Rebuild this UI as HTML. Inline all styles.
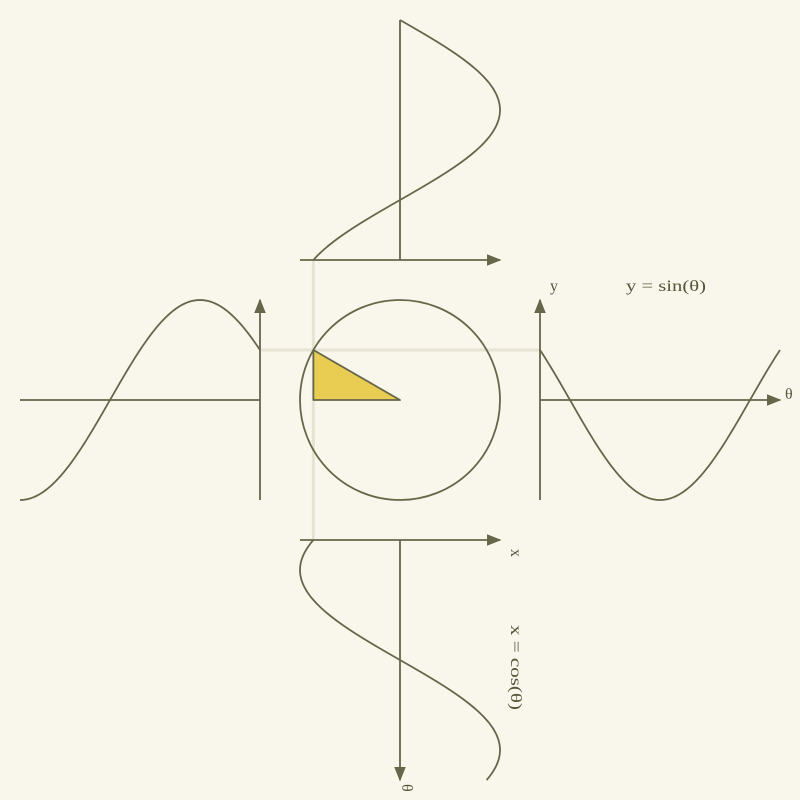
<!DOCTYPE html>
<html><head><meta charset="utf-8">
<style>
html,body{margin:0;padding:0;background:#f9f7ec;}
svg{display:block;}
text{font-family:"Liberation Serif",serif;font-size:16px;fill:#55553a;}
</style></head>
<body>
<svg id="chart" width="800" height="800" viewBox="0 0 800 800">
<defs><marker id="arr" viewBox="0 0 10 10" refX="9" refY="5" markerWidth="8" markerHeight="8" orient="auto"><path d="M0,1L10,5L0,9z" fill="#66664a"/></marker></defs>
<g id="guides"></g>
<g id="axes"></g>
<g id="marks"></g>
<text x="550" y="291">y</text>
<text x="626" y="291" textLength="80" lengthAdjust="spacingAndGlyphs">y = sin(θ)</text>
<text x="785" y="399">θ</text>
<text transform="translate(511,549) rotate(90)">x</text>
<text transform="translate(511,625) rotate(90)" textLength="85" lengthAdjust="spacingAndGlyphs">x = cos(θ)</text>
<text transform="translate(402,784) rotate(90)">θ</text>
</svg>
<script>
const thetaDeg = [150];           // current angle
const radiusUnits = [1];          // unit circle
const waveSpanDeg = [240];        // angular span of each wave
const NS="http://www.w3.org/2000/svg";
const cx=400, cy=400, R=100, pxPerDeg=1;
const stroke="#66664a";
const sw=1.8;
const th=thetaDeg[0], r=radiusUnits[0]*R, span=waveSpanDeg[0];
const rad=d=>d*Math.PI/180;
function mk(tag,attrs,parent){const e=document.createElementNS(NS,tag);for(const k in attrs)e.setAttribute(k,attrs[k]);document.getElementById(parent).appendChild(e);return e;}
const px=cx+r*Math.cos(rad(th)), py=cy-r*Math.sin(rad(th));
let g1=mk('line',{x1:px,y1:260,x2:px,y2:540,stroke:'#e6e3d3','stroke-width':3},'guides');


let g2=mk('line',{x1:260,y1:py,x2:540,y2:py,stroke:'#e6e3d3','stroke-width':3},'guides');


const axes=[['left-x-axis',20,400,260,400,false],['left-y-axis',260,500,260,300,true],
['right-y-axis',540,500,540,300,true],['right-theta-axis',540,400,780,400,true],
['top-x-axis',300,260,500,260,true],['top-theta-axis',400,260,400,20,false],
['bottom-x-axis',300,540,500,540,true],['bottom-theta-axis',400,540,400,780,true]];
axes.forEach(a=>{const l=mk('line',{x1:a[1],y1:a[2],x2:a[3],y2:a[4],stroke:stroke,'stroke-width':sw},'axes');
if(a[5])l.setAttribute('marker-end','url(#arr)');

});
const c=mk('circle',{cx:cx,cy:cy,r:r,fill:'none',stroke:stroke,'stroke-width':sw},'marks');


const t=mk('path',{d:`M${cx},${cy}L${px},${cy}L${px},${py}Z`,fill:'#e8cd52',stroke:stroke,'stroke-width':sw,'stroke-linejoin':'round'},'marks');


function wave(name,fn){let d='';for(let s=0;s<=span;s+=2){const p=fn(s);d+=(s?'L':'M')+p[0].toFixed(2)+','+p[1].toFixed(2);}
const e=mk('path',{d:d,fill:'none',stroke:stroke,'stroke-width':sw},'marks');

}
wave('sine-wave-right',s=>[540+s*pxPerDeg, cy-r*Math.sin(rad(th+s))]);
wave('sine-wave-left',s=>[260-s*pxPerDeg, cy-r*Math.sin(rad(th-s))]);
wave('cosine-wave-top',s=>[cx+r*Math.cos(rad(th-s)), 260-s*pxPerDeg]);
wave('cosine-wave-bottom',s=>[cx+r*Math.cos(rad(th+s)), 540+s*pxPerDeg]);
</script>
</body></html>
